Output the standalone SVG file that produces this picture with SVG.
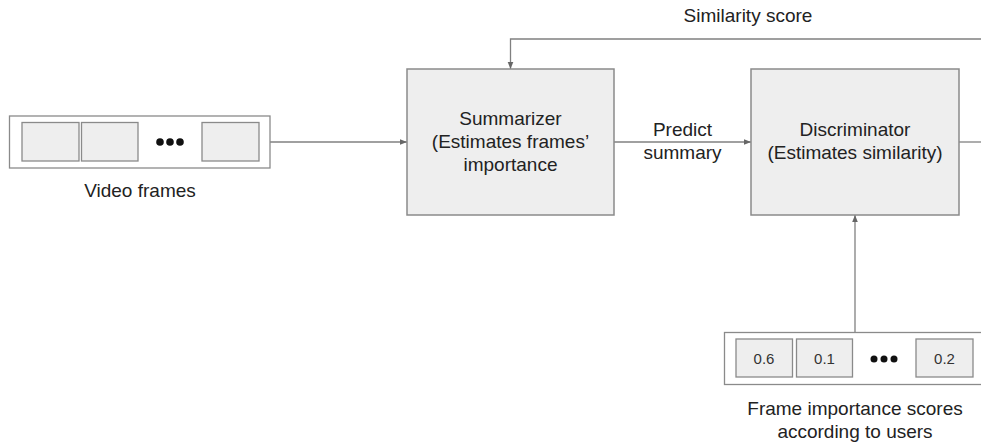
<svg xmlns="http://www.w3.org/2000/svg" width="981" height="444" viewBox="0 0 981 444">
<defs>
<style>
.t{font-family:"Liberation Sans",Arial,sans-serif;font-size:19px;fill:#222;text-anchor:middle}
.n{font-family:"Liberation Sans",Arial,sans-serif;font-size:15px;fill:#333;text-anchor:middle}
.box{fill:#eeeeee;stroke:#8a8a8a;stroke-width:1.5}
.outer{fill:#ffffff;stroke:#8a8a8a;stroke-width:1.3}
.cell{fill:#eeeeee;stroke:#8a8a8a;stroke-width:1.3}
.c{fill:none;stroke:#808080;stroke-width:1.3}
</style>
<marker id="ah" viewBox="0 0 10 10" refX="10" refY="5" markerWidth="7" markerHeight="7" markerUnits="userSpaceOnUse" orient="auto">
<path d="M0,1 L10,5 L0,9 z" fill="#666"/>
</marker>
</defs>
<rect width="981" height="444" fill="#ffffff"/>
<g id="connectors">
<path class="c" d="M270,142 L407,142" marker-end="url(#ah)"/>
<path class="c" d="M614,142 L751,142" marker-end="url(#ah)"/>
<path class="c" d="M959,142 L981,142"/>
<path class="c" d="M981,39 L510.5,39 L510.5,69" marker-end="url(#ah)"/>
<path class="c" d="M855,332 L855,215" marker-end="url(#ah)"/>
<text class="t" x="748" y="22">Similarity score</text>
<text class="t" x="682.5" y="136">Predict</text>
<text class="t" x="682.5" y="159">summary</text>
</g>
<g id="video-frames">
<rect class="outer" x="9.5" y="116" width="260.5" height="52"/>
<rect class="cell" x="22" y="122.5" width="57" height="38.5"/>
<rect class="cell" x="81.5" y="122.5" width="56.5" height="38.5"/>
<rect class="cell" x="202" y="122.5" width="57" height="38.5"/>
<circle cx="160" cy="142" r="3.8" fill="#111"/>
<circle cx="170" cy="142" r="3.8" fill="#111"/>
<circle cx="180" cy="142" r="3.8" fill="#111"/>
<text class="t" x="140" y="197">Video frames</text>
</g>
<g id="summarizer">
<rect class="box" x="407" y="69" width="207" height="146"/>
<text class="t" x="510.5" y="125">Summarizer</text>
<text class="t" x="510.5" y="148">(Estimates frames’</text>
<text class="t" x="510.5" y="171">importance</text>
</g>
<g id="discriminator">
<rect class="box" x="751" y="69" width="208" height="146"/>
<text class="t" x="855" y="136">Discriminator</text>
<text class="t" x="855" y="159">(Estimates similarity)</text>
</g>
<g id="user-scores">
<rect class="outer" x="724.5" y="332.5" width="270" height="52"/>
<rect class="cell" x="736" y="339" width="56.5" height="38"/>
<rect class="cell" x="796.5" y="339" width="56" height="38"/>
<rect class="cell" x="916" y="339" width="57" height="38"/>
<text class="n" x="764" y="364">0.6</text>
<text class="n" x="824.5" y="364">0.1</text>
<text class="n" x="944.5" y="364">0.2</text>
<circle cx="874" cy="359" r="3.5" fill="#111"/>
<circle cx="884" cy="359" r="3.5" fill="#111"/>
<circle cx="894" cy="359" r="3.5" fill="#111"/>
<text class="t" x="855" y="415">Frame importance scores</text>
<text class="t" x="855" y="438">according to users</text>
</g>
</svg>
